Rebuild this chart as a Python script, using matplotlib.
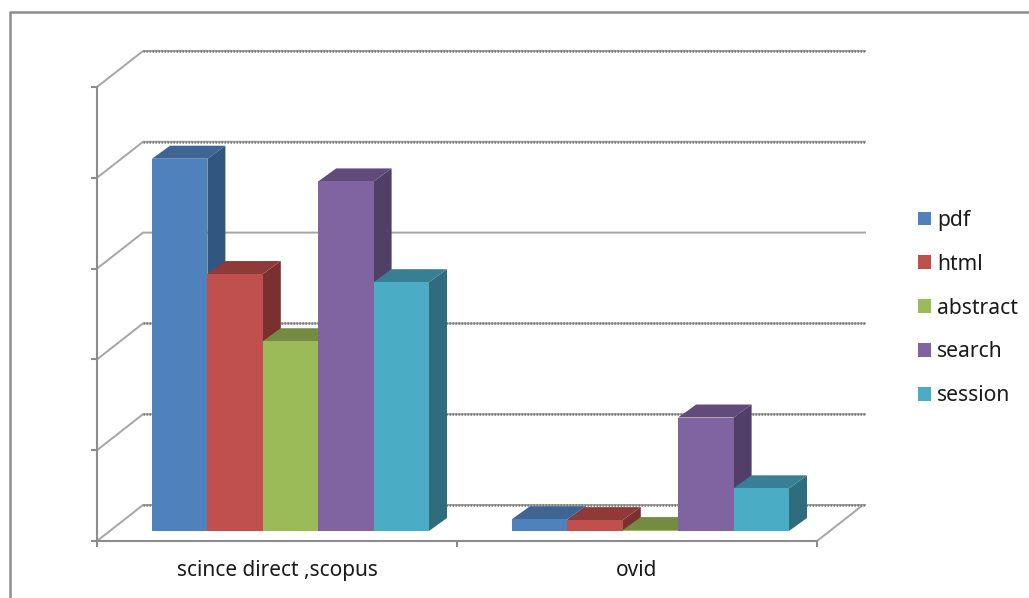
import matplotlib
matplotlib.use("Agg")
import matplotlib.pyplot as plt
from matplotlib.lines import Line2D
from matplotlib.patches import Polygon

categories = ["scince direct ,scopus", "ovid"]
series = ["pdf", "html", "abstract", "search", "session"]
pdf = [4.10, 0.13]
html = [2.83, 0.12]
abstract = [2.09, 0.01]
search = [3.85, 1.25]
session = [2.74, 0.47]
values = [pdf, html, abstract, search, session]
y_ticks = [0, 1, 2, 3, 4, 5]
front = ["#4f81bd", "#c0504d", "#9bbb59", "#8064a2", "#4bacc6"]
top = ["#3e6594", "#8f3a38", "#748c42", "#604b7a", "#387f93"]
side = ["#31567f", "#7a302e", "#62763a", "#513f68", "#2f6c7d"]

W, H = 1029, 598
GRAY = "#8c8c8c"
fig = plt.figure(figsize=(W / 100, H / 100), dpi=100)
plt.rcParams["font.family"] = ["Noto Sans", "DejaVu Sans"]
L, R, T, B = 97, 817, 87, 541
ax = fig.add_axes([L / W, 1 - B / H, (R - L) / W, (B - T) / H])
ax.set_xlim(0, 2)
ax.set_ylim(0, 5)
px = 2 / (R - L)
py = 5 / (B - T)
wall_dx, wall_dy = 46 * px, 36 * py
inset_dx, inset_dy = 13.5 * px, 10 * py
bar_dx, bar_dy = 18 * px, 13 * py
bar_w = 55.4 * px

for s in ["top", "right"]:
    ax.spines[s].set_visible(False)
for s in ["left", "bottom"]:
    ax.spines[s].set_color(GRAY)
    ax.spines[s].set_linewidth(1.5)
ax.set_yticks(y_ticks)
ax.set_yticklabels([])
ax.set_xticks([0, 1, 2])
ax.set_xticklabels([])
ax.tick_params(axis="both", which="major", color=GRAY, width=1.5, length=4.5)
ax.set_xticks([0.5, 1.5], minor=True)
ax.set_xticklabels(categories, minor=True, fontsize=15, color="#1a1a1a")
ax.tick_params(axis="x", which="minor", length=0, pad=13.5)

for v in y_ticks:
    # depth line and back-wall gridline
    xs = [0, wall_dx, 2 + wall_dx + 2 * px]
    ys = [v, v + wall_dy, v + wall_dy]
    ax.plot(xs, ys, color="#a6a6a6", lw=1.4, clip_on=False, zorder=1)
    if v != 3:
        ax.plot(xs[1:], ys[1:], color="#7d7d7d", lw=1.8, ls=(0, (0.6, 0.6)), clip_on=False, zorder=1.1)
ax.plot([2, 2 + wall_dx], [0, wall_dy], color="#a6a6a6", lw=1.4, clip_on=False, zorder=1)

z = 3
for c in range(len(categories)):
    x0 = c + 0.5 + inset_dx - 2.5 * bar_w
    for i, name in enumerate(series):
        h = values[i][c]
        left = x0 + i * bar_w
        b = inset_dy
        ax.add_patch(Polygon([(left + bar_w, b), (left + bar_w + bar_dx, b + bar_dy),
                              (left + bar_w + bar_dx, b + h + bar_dy), (left + bar_w, b + h)],
                             closed=True, fc=side[i], ec="none", zorder=z, clip_on=False))
        ax.add_patch(Polygon([(left, b + h), (left + bar_dx, b + h + bar_dy),
                              (left + bar_w + bar_dx, b + h + bar_dy), (left + bar_w, b + h)],
                             closed=True, fc=top[i], ec="none", zorder=z, clip_on=False))
        ax.bar(left, h, bar_w, bottom=b, align="edge", color=front[i], zorder=z + 0.5,
               clip_on=False, label=name if c == 0 else None)
        z += 1

leg = ax.legend(loc="center left", bbox_to_anchor=((918 - L) * px / 2, (B - 308) / (B - T)),
                frameon=False, fontsize=15.2, handlelength=0.62, handleheight=0.62,
                labelspacing=1.08, handletextpad=0.27, borderpad=0, borderaxespad=0,
                labelcolor="#1a1a1a")

fig.add_artist(Line2D([10 / W, 10 / W, 1], [0, 1 - 12 / H, 1 - 12 / H], color="#8c8c8c", lw=1.8))

fig.savefig("out.png", dpi=100)
